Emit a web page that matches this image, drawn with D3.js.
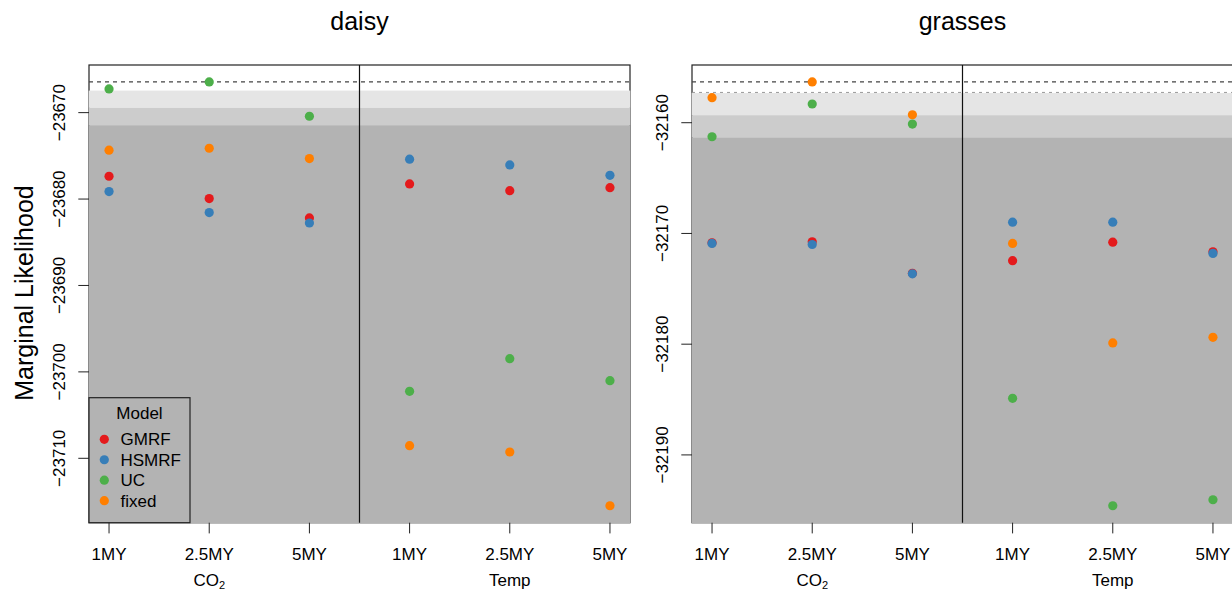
<!DOCTYPE html>
<html><head><meta charset="utf-8">
<script src="https://cdn.jsdelivr.net/npm/d3@7"></script>
<style>
html,body{margin:0;padding:0;background:#fff;}
text{font-family:"Liberation Sans",Arial,Helvetica,sans-serif;fill:#000;}
</style></head>
<body><svg id="c" width="1232" height="593"></svg>
<script>
// ---- data ----
const categories = ["1MY","2.5MY","5MY","1MY","2.5MY","5MY"];
const groupLabels = ["CO2","Temp"];
const models = ["GMRF","HSMRF","UC","fixed"];
const modelColors = ["#E41A1C","#377EB8","#4DAF4A","#FF7F00"];

const daisyGMRF  = [-23677.36,-23679.95,-23682.19,-23678.25,-23679.03,-23678.68];
const daisyHSMRF = [-23679.14,-23681.57,-23682.77,-23675.39,-23676.05,-23677.25];
const daisyUC    = [-23667.26,-23666.45,-23670.42,-23702.25,-23698.47,-23701.02];
const daisyFixed = [-23674.35,-23674.12,-23675.32,-23708.54,-23709.27,-23715.49];

const grassesGMRF  = [-32170.85,-32170.76,-32173.60,-32172.46,-32170.79,-32171.66];
const grassesHSMRF = [-32170.90,-32171.00,-32173.65,-32168.98,-32168.98,-32171.80];
const grassesUC    = [-32161.27,-32158.31,-32160.12,-32184.89,-32194.59,-32194.05];
const grassesFixed = [-32157.74,-32156.32,-32159.28,-32170.90,-32179.89,-32179.38];

const daisyTicks   = [-23670,-23680,-23690,-23700,-23710];
const grassesTicks = [-32160,-32170,-32180,-32190];

const bandOffsets = [1,3,5];               // below the best model
const bandColors  = ["#e5e5e5","#cccccc","#b3b3b3"];
const grassesRefOffset = [1];              // light dashed reference line
const daisyRefOffset = [];

const panels = [
  {title:"daisy",   series:[daisyGMRF,daisyHSMRF,daisyUC,daisyFixed],       ticks:daisyTicks,   refs:daisyRefOffset,   x0:89,  x1:630, legend:true,  ylab:true},
  {title:"grasses", series:[grassesGMRF,grassesHSMRF,grassesUC,grassesFixed], ticks:grassesTicks, refs:grassesRefOffset, x0:692, x1:1233, legend:false, ylab:false}
];

const svg = d3.select("#c");
const y0 = 65, y1 = 522.7;
const fmt = v => String(v).replace("-","\u2212");

panels.forEach(p => {
  const all = p.series.flat();
  const [mn,mx] = d3.extent(all);
  const r = mx-mn;
  const x = d3.scaleLinear().domain([0.8,6.2]).range([p.x0,p.x1]);
  const y = d3.scaleLinear().domain([mn-0.04*r, mx+0.04*r]).range([y1,y0]);
  const g = svg.append("g");

  // box
  g.append("rect").attr("x",p.x0).attr("y",y0).attr("width",p.x1-p.x0).attr("height",y1-y0)
    .attr("fill","none").attr("stroke","#222").attr("stroke-width",1.2);

  // bands
  bandOffsets.forEach((off,i) => {
    const top = y(mx-off);
    const bot = i < bandOffsets.length-1 ? y(mx-bandOffsets[i+1]) : y1;
    g.append("rect").attr("x",p.x0-0.3).attr("y",top).attr("width",p.x1-p.x0+0.6)
      .attr("height",bot-top+ (i===bandOffsets.length-1?0.5:0)).attr("fill",bandColors[i]);
  });

  // best line
  g.append("line").attr("x1",p.x0).attr("x2",p.x1).attr("y1",y(mx)).attr("y2",y(mx))
    .attr("stroke","#444").attr("stroke-width",1.2).attr("stroke-dasharray","4,4");
  p.refs.forEach(off => {
    g.append("line").attr("x1",p.x0).attr("x2",p.x1).attr("y1",y(mx-off)-0.6).attr("y2",y(mx-off)-0.6)
      .attr("stroke","#999").attr("stroke-width",1).attr("stroke-dasharray","3,4");
  });

  // divider
  g.append("line").attr("x1",x(3.5)).attr("x2",x(3.5)).attr("y1",y0).attr("y2",y1)
    .attr("stroke","#111").attr("stroke-width",1.2);

  // y axis
  p.ticks.forEach(t => {
    g.append("line").attr("x1",p.x0-10.7).attr("x2",p.x0).attr("y1",y(t)).attr("y2",y(t))
      .attr("stroke","#222").attr("stroke-width",1);
    g.append("text").attr("transform",`translate(${p.x0-24},${y(t)}) rotate(-90)`)
      .attr("text-anchor","middle").attr("font-size",17).text(fmt(t));
  });

  // x axis
  categories.forEach((c,i) => {
    const xi = x(i+1);
    g.append("line").attr("x1",xi).attr("x2",xi).attr("y1",y1).attr("y2",y1+10.7)
      .attr("stroke","#222").attr("stroke-width",1);
    g.append("text").attr("x",xi).attr("y",560).attr("text-anchor","middle").attr("font-size",17).text(c);
  });
  groupLabels.forEach((gl,i) => {
    const t = g.append("text").attr("x",x(2+3*i)).attr("y",586).attr("text-anchor","middle").attr("font-size",17);
    if (gl === "CO2") {
      t.append("tspan").text("CO");
      t.append("tspan").attr("font-size",11).attr("dy",2.5).text("2");
    } else t.text(gl);
  });

  // points
  p.series.forEach((s,k) => {
    g.selectAll(null).data(s).enter().append("circle")
      .attr("cx",(d,i)=>x(i+1)).attr("cy",d=>y(d)).attr("r",4.6).attr("fill",modelColors[k]);
  });

  // title
  g.append("text").attr("x",(p.x0+p.x1)/2).attr("y",30).attr("text-anchor","middle")
    .attr("font-size",25).text(p.title);

  if (p.ylab) {
    g.append("text").attr("transform",`translate(33,293) rotate(-90)`).attr("text-anchor","middle")
      .attr("font-size",25).text("Marginal Likelihood");
  }

  if (p.legend) {
    const lx = p.x0, ly = 397.7, lw = 101, lh = y1-ly;
    g.append("rect").attr("x",lx).attr("y",ly).attr("width",lw).attr("height",lh)
      .attr("fill","none").attr("stroke","#222").attr("stroke-width",1.2);
    g.append("text").attr("x",lx+lw/2).attr("y",419).attr("text-anchor","middle").attr("font-size",17).text("Model");
    models.forEach((m,k) => {
      const cy = 439.3 + k*20.45;
      g.append("circle").attr("cx",lx+15.3).attr("cy",cy).attr("r",4.6).attr("fill",modelColors[k]);
      g.append("text").attr("x",lx+31.5).attr("y",cy+6).attr("font-size",17).text(m);
    });
  }
});
</script></body></html>
